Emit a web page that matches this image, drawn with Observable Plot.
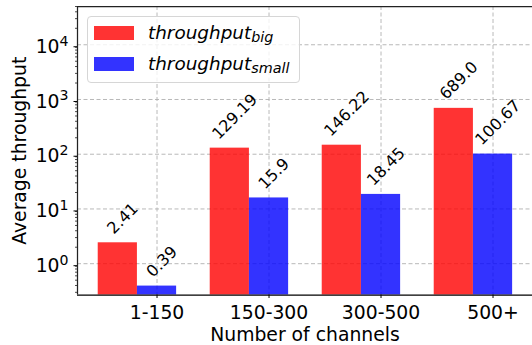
<!DOCTYPE html>
<html>
<head>
<meta charset="utf-8">
<script src="https://cdn.jsdelivr.net/npm/d3@7"></script>
<script src="https://cdn.jsdelivr.net/npm/@observablehq/plot@0.6"></script>
<style>
  html, body { margin: 0; padding: 0; background: #fff; }
  #wrap { position: relative; width: 532px; height: 345px; overflow: hidden; font-family: "DejaVu Sans", sans-serif; }
  .legend { position: absolute; left: 87px; top: 16px; width: 211px; height: 65px; border: 1px solid #d6d6d6; border-radius: 4px; background: rgba(255,255,255,0.8); }
  .legend .sw { position: absolute; left: 6px; width: 40px; height: 14px; }
  .legend .lbl { position: absolute; left: 60px; font-size: 18.4px; line-height: 18.4px; font-style: italic; white-space: nowrap; color: #000; }
  .legend .lbl sub { font-size: 0.78em; vertical-align: -3px; font-style: italic; }
</style>
</head>
<body>
<div id="wrap"></div>
<script>
// ---- data ----
const categories = ["1-150", "150-300", "300-500", "500+"];
const throughputBig = [2.41, 129.19, 146.22, 689.0];
const throughputSmall = [0.39, 15.9, 18.45, 100.67];
const bigLabels = ["2.41", "129.19", "146.22", "689.0"];
const smallLabels = ["0.39", "15.9", "18.45", "100.67"];
const seriesNames = ["big", "small"];
const yMajorTicks = [1, 10, 100, 1000, 10000];

// ---- layout constants ----
const W = 532, H = 345;
const mL = 77, mT = 6, mB = 50.5;
const barW = 0.35;
const xDomain = [-0.71, 3.36];
const yDomain = [0.268, 50000];
const yRange = [H - mB, mT];
const colors = {big: "#ff0000", small: "#0000ff"};
const labelFont = 16;
const axisFont = 18.8;

const rows = categories.flatMap((c, i) => [
  {i, series: "big", value: throughputBig[i], label: bigLabels[i], off: -barW},
  {i, series: "small", value: throughputSmall[i], label: smallLabels[i], off: 0}
]);

// minor ticks on the log axis
const yMinor = [];
for (let k = -1; k <= 4; k++) for (let m = 2; m <= 9; m++) {
  const v = m * Math.pow(10, k);
  if (v >= yDomain[0] && v <= yDomain[1]) yMinor.push(v);
}

// position value labels so that the rotated text box sits above the bar
const pxPerDecade = (yRange[0] - yRange[1]) / (Math.log10(yDomain[1]) - Math.log10(yDomain[0]));
const ctx = document.createElement("canvas").getContext("2d");
ctx.font = `${labelFont}px "DejaVu Sans"`;
function labelY(d) {
  const w = ctx.measureText(d.label).width;
  const capH = 0.73 * labelFont;
  const px = 7.5 + (w + capH) * 0.3535;
  return d.value * Math.pow(10, px / pxPerDecade);
}

const gridStyle = {stroke: "#b0b0b0", strokeWidth: 0.9, strokeDasharray: "4,2.5", strokeOpacity: 1};

const chart = Plot.plot({
  width: W,
  height: H,
  marginLeft: mL,
  marginRight: 0,
  marginTop: mT,
  marginBottom: mB,
  style: {fontFamily: "DejaVu Sans", fontSize: axisFont + "px", color: "#000", background: "transparent", overflow: "visible"},
  x: {type: "linear", domain: xDomain, range: [mL, mL + (xDomain[1] - xDomain[0]) * 112]},
  y: {type: "log", domain: yDomain, range: yRange},
  color: {domain: seriesNames, range: [colors.big, colors.small]},
  marks: [
    Plot.gridY(yMajorTicks, gridStyle),
    Plot.gridX([0, 1, 2, 3], gridStyle),
    Plot.rect(rows, {
      x1: d => d.i + d.off - barW / 2,
      x2: d => d.i + d.off + barW / 2,
      y1: yDomain[0],
      y2: "value",
      fill: "series",
      fillOpacity: 0.8
    }),
    Plot.text(rows, {
      x: d => d.i + d.off,
      y: labelY,
      text: "label",
      rotate: -45,
      textAnchor: "middle",
      lineAnchor: "middle",
      dx: 5,
      fontSize: labelFont,
      fill: "#000"
    }),
    Plot.ruleY([yDomain[0]], {stroke: "#000", strokeWidth: 1.25}),
    Plot.ruleY([yDomain[1]], {stroke: "#222", strokeWidth: 1.25}),
    Plot.ruleX([xDomain[0]], {stroke: "#222", strokeWidth: 1.25}),
    Plot.axisX([0, 1, 2, 3], {
      tickFormat: i => categories[i],
      tickSize: 3.5,
      tickPadding: 7,
      fontSize: axisFont,
      label: null
    }),
    Plot.axisY(yMinor, {tickSize: 2, tickFormat: () => "", label: null, strokeWidth: 0.7}),
    Plot.axisY(yMajorTicks, {
      tickSize: 3.5,
      tickPadding: 5.5,
      tickFormat: d => "10^" + Math.round(Math.log10(d)),
      fontSize: axisFont,
      dy: 2,
      label: null
    }),
    Plot.text(["Number of channels"], {
      frameAnchor: "bottom",
      text: d => d,
      textAnchor: "middle",
      lineAnchor: "bottom",
      dy: 45.5,
      fontSize: axisFont,
      fill: "#000"
    }),
    Plot.text(["Average throughput"], {
      frameAnchor: "left",
      text: d => d,
      rotate: -90,
      textAnchor: "middle",
      lineAnchor: "middle",
      dx: -58,
      fontSize: axisFont,
      fill: "#000"
    })
  ]
});

// superscripts for the log tick labels
const NS = "http://www.w3.org/2000/svg";
chart.querySelectorAll("text").forEach(t => {
  const s = t.textContent;
  const m = /^10\^(-?\d+)$/.exec(s);
  if (!m) return;
  t.textContent = "";
  const base = document.createElementNS(NS, "tspan");
  base.textContent = "10";
  const sup = document.createElementNS(NS, "tspan");
  sup.setAttribute("dy", "-0.5em");
  sup.setAttribute("font-size", "0.75em");
  sup.textContent = m[1];
  t.appendChild(base);
  t.appendChild(sup);
});

const wrap = document.getElementById("wrap");
wrap.appendChild(chart);

// legend
const legend = document.createElement("div");
legend.className = "legend";
seriesNames.forEach((s, k) => {
  const sw = document.createElement("div");
  sw.className = "sw";
  sw.style.top = (9 + k * 31) + "px";
  sw.style.background = colors[s];
  sw.style.opacity = 0.8;
  const lbl = document.createElement("div");
  lbl.className = "lbl";
  lbl.style.top = (6.5 + k * 31) + "px";
  lbl.innerHTML = "throughput<sub>" + s + "</sub>";
  legend.appendChild(sw);
  legend.appendChild(lbl);
});
wrap.appendChild(legend);
</script>
</body>
</html>
